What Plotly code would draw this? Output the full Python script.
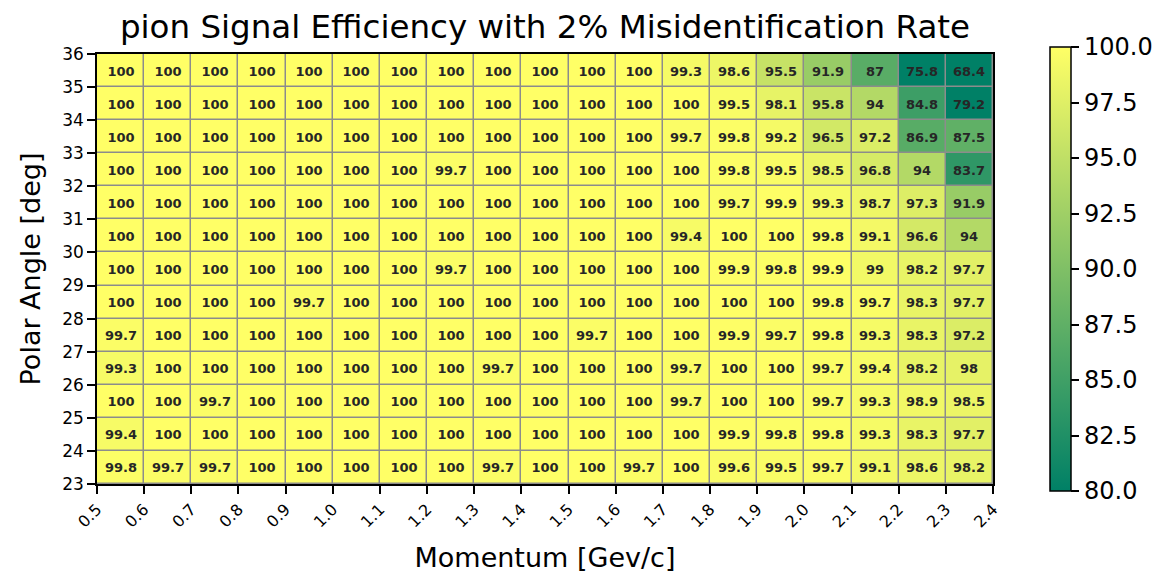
import plotly.graph_objects as go

# momentum bin edges (GeV/c) and polar angle bin edges (deg)
momentum_edges = [0.5, 0.6, 0.7, 0.8, 0.9, 1.0, 1.1, 1.2, 1.3, 1.4, 1.5, 1.6,
                  1.7, 1.8, 1.9, 2.0, 2.1, 2.2, 2.3, 2.4]
angle_edges = list(range(23, 37))

# efficiency [%], rows from 23-24 deg (bottom) up to 35-36 deg (top)
eff_23 = [99.8, 99.7, 99.7, 100, 100, 100, 100, 100, 99.7, 100, 100, 99.7, 100, 99.6, 99.5, 99.7, 99.1, 98.6, 98.2]
eff_24 = [99.4, 100, 100, 100, 100, 100, 100, 100, 100, 100, 100, 100, 100, 99.9, 99.8, 99.8, 99.3, 98.3, 97.7]
eff_25 = [100, 100, 99.7, 100, 100, 100, 100, 100, 100, 100, 100, 100, 99.7, 100, 100, 99.7, 99.3, 98.9, 98.5]
eff_26 = [99.3, 100, 100, 100, 100, 100, 100, 100, 99.7, 100, 100, 100, 99.7, 100, 100, 99.7, 99.4, 98.2, 98]
eff_27 = [99.7, 100, 100, 100, 100, 100, 100, 100, 100, 100, 99.7, 100, 100, 99.9, 99.7, 99.8, 99.3, 98.3, 97.2]
eff_28 = [100, 100, 100, 100, 99.7, 100, 100, 100, 100, 100, 100, 100, 100, 100, 100, 99.8, 99.7, 98.3, 97.7]
eff_29 = [100, 100, 100, 100, 100, 100, 100, 99.7, 100, 100, 100, 100, 100, 99.9, 99.8, 99.9, 99, 98.2, 97.7]
eff_30 = [100, 100, 100, 100, 100, 100, 100, 100, 100, 100, 100, 100, 99.4, 100, 100, 99.8, 99.1, 96.6, 94]
eff_31 = [100, 100, 100, 100, 100, 100, 100, 100, 100, 100, 100, 100, 100, 99.7, 99.9, 99.3, 98.7, 97.3, 91.9]
eff_32 = [100, 100, 100, 100, 100, 100, 100, 99.7, 100, 100, 100, 100, 100, 99.8, 99.5, 98.5, 96.8, 94, 83.7]
eff_33 = [100, 100, 100, 100, 100, 100, 100, 100, 100, 100, 100, 100, 99.7, 99.8, 99.2, 96.5, 97.2, 86.9, 87.5]
eff_34 = [100, 100, 100, 100, 100, 100, 100, 100, 100, 100, 100, 100, 100, 99.5, 98.1, 95.8, 94, 84.8, 79.2]
eff_35 = [100, 100, 100, 100, 100, 100, 100, 100, 100, 100, 100, 100, 99.3, 98.6, 95.5, 91.9, 87, 75.8, 68.4]

z = [eff_23, eff_24, eff_25, eff_26, eff_27, eff_28, eff_29,
     eff_30, eff_31, eff_32, eff_33, eff_34, eff_35]
cell_text = [[f"{v:g}" for v in row] for row in z]

x_mid = [round((a + b) / 2, 3) for a, b in zip(momentum_edges[:-1], momentum_edges[1:])]
y_mid = [(a + b) / 2 for a, b in zip(angle_edges[:-1], angle_edges[1:])]

# matplotlib "summer_r"
SUMMER_R = [[0.0, "rgb(0,128,102)"], [1.0, "rgb(255,255,102)"]]
FONT = "DejaVu Sans"

fig = go.Figure(go.Heatmap(
    x=x_mid, y=y_mid, z=z,
    zmin=80, zmax=100,
    colorscale=SUMMER_R,
    xgap=1.5, ygap=1.5,
    text=cell_text,
    texttemplate="<b>%{text}</b>",
    textfont=dict(family=FONT, size=13, color="#262626"),
    colorbar=dict(
        x=1.0636, xanchor="left", y=0.5, yanchor="middle",
        thickness=21, lenmode="pixels", len=444, ypad=0, xpad=0,
        tickvals=[80, 82.5, 85, 87.5, 90, 92.5, 95, 97.5, 100],
        tickformat=".1f", ticks="outside", ticklen=8, tickcolor="black", tickwidth=1.5,
        tickfont=dict(family=FONT, size=24, color="black"),
        outlinecolor="black", outlinewidth=1.5,
    ),
))

fig.update_xaxes(
    range=[momentum_edges[0], momentum_edges[-1]],
    tickvals=momentum_edges, ticktext=[f"{v:.1f}" for v in momentum_edges],
    tickangle=-45, ticks="outside", ticklen=8, tickcolor="black", tickwidth=1.5,
    tickfont=dict(family=FONT, size=16, color="black"),
    showline=True, linecolor="black", linewidth=1.5, mirror=True,
    showgrid=False, zeroline=False, automargin=False,
    title=dict(text="Momentum [Gev/c]", font=dict(family=FONT, size=27, color="black"), standoff=18),
)
fig.update_yaxes(
    range=[angle_edges[0], angle_edges[-1]],
    tickvals=angle_edges, ticks="outside", ticklen=8, tickcolor="black", tickwidth=1.5,
    tickfont=dict(family=FONT, size=17, color="black"),
    showline=True, linecolor="black", linewidth=1.5, mirror=True,
    showgrid=False, zeroline=False, automargin=False,
    title=dict(text="Polar Angle [deg]", font=dict(family=FONT, size=27, color="black"), standoff=14),
)

# the page body adds an 8px offset, so margins are shifted up/left by that much
fig.update_layout(
    width=1170, height=575,
    margin=dict(l=89, r=185, t=46, b=99, autoexpand=False),
    plot_bgcolor="#8c8c8c",
    paper_bgcolor="white",
    title=dict(
        text="pion Signal Efficiency with 2% Misidentification Rate",
        x=537 / 1170, xanchor="center", y=1 - 19 / 575, yanchor="middle",
        font=dict(family=FONT, size=32.5, color="black"),
    ),
)

fig.write_html("out.html")
